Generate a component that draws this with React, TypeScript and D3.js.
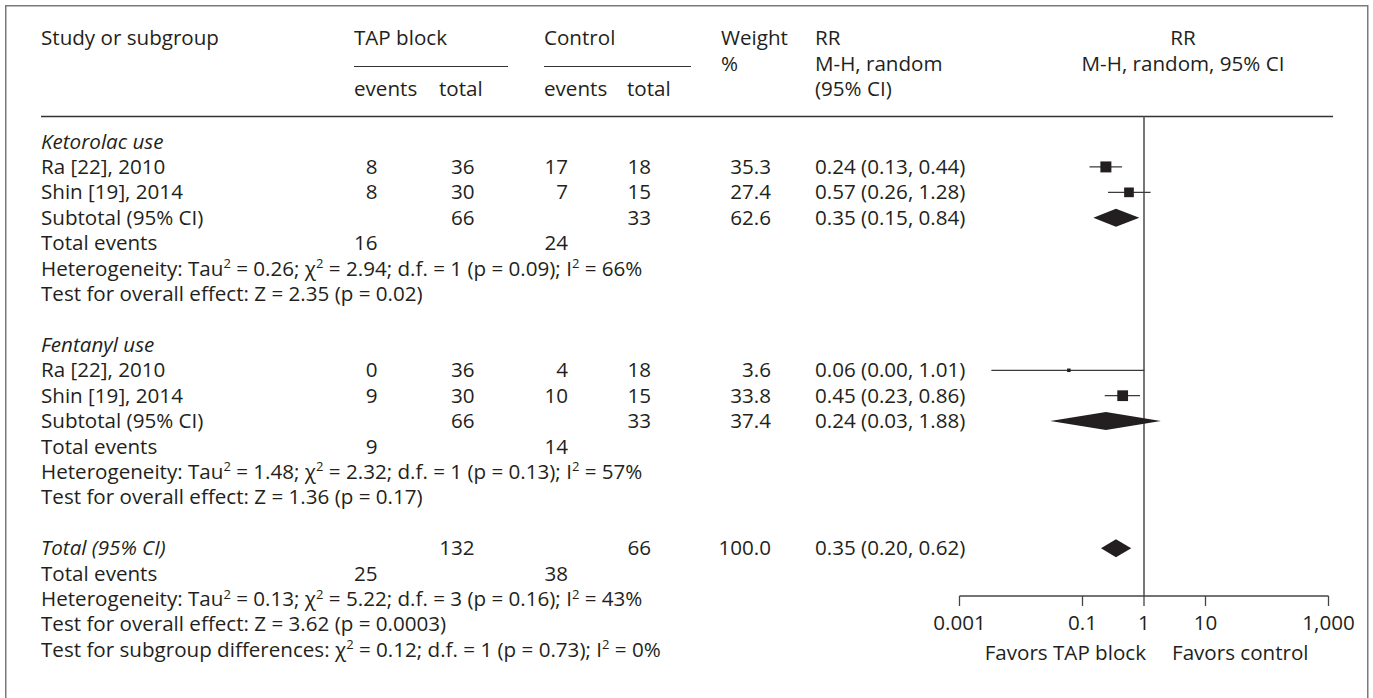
import React from "react";
import * as d3 from "d3";

// ---------- data ----------
const groupNames = ["Ketorolac use", "Fentanyl use"];
const studyNames = [
  ["Ra [22], 2010", "Shin [19], 2014"],
  ["Ra [22], 2010", "Shin [19], 2014"],
];
const tapEvents = [[8, 8], [0, 9]];
const tapTotal = [[36, 30], [36, 30]];
const ctrlEvents = [[17, 7], [4, 10]];
const ctrlTotal = [[18, 15], [18, 15]];
const weights = [[35.3, 27.4], [3.6, 33.8]];
const rr = [[0.24, 0.57], [0.06, 0.45]];
const rrLo = [[0.13, 0.26], [0.0033, 0.23]];
const rrHi = [[0.44, 1.28], [1.01, 0.86]];

const subTapTotal = [66, 66];
const subCtrlTotal = [33, 33];
const subWeight = [62.6, 37.4];
const subRR = [0.35, 0.24];
const subLo = [0.15, 0.03];
const subHi = [0.84, 1.88];
const subTapEvents = [16, 9];
const subCtrlEvents = [24, 14];
const subTau2 = ["0.26", "1.48"];
const subChi2 = ["2.94", "2.32"];
const subDf = [1, 1];
const subP = ["0.09", "0.13"];
const subI2 = [66, 57];
const subZ = ["2.35", "1.36"];
const subPZ = ["0.02", "0.17"];

const totTapTotal = 132;
const totCtrlTotal = 66;
const totWeight = 100.0;
const totRR = 0.35;
const totLo = 0.2;
const totHi = 0.62;
const totTapEvents = 25;
const totCtrlEvents = 38;
const totTau2 = "0.13";
const totChi2 = "5.22";
const totDf = 3;
const totP = "0.16";
const totI2 = 43;
const totZ = "3.62";
const totPZ = "0.0003";
const sgChi2 = "0.12";
const sgDf = 1;
const sgP = "0.73";
const sgI2 = 0;

const tickValues = [0.001, 0.1, 1, 10, 1000];
const tickLabels = ["0.001", "0.1", "1", "10", "1,000"];

// ---------- layout ----------
const W = 1373;
const H = 698;
const FONT = "'Open Sans', 'Noto Sans', sans-serif";
const FS = 20.6;
const TXT = "#231f20";

const x = d3.scaleLog().domain([0.001, 1000]).range([959.5, 1328.5]);
const rowY = (i: number) => 148.5 + i * 25.42;
const MID = 7;

const colStudy = 41;
const colTapEv = 377.5;
const colTapTot = 474.5;
const colCtrlEv = 568;
const colCtrlTot = 651;
const colWeight = 771;
const colRR = 815;

const fmtCI = (m: number, l: number, h: number) =>
  `${m.toFixed(2)} (${l.toFixed(2)}, ${h.toFixed(2)})`;

// segments alternate: normal, superscript, normal, superscript, ...
function SupText({ x: tx, y, parts }: { x: number; y: number; parts: string[] }) {
  const RAISE = 7.5;
  return (
    <text x={tx} y={y}>
      {parts.map((p, i) => {
        const isSup = i % 2 === 1;
        const dy = i === 0 ? 0 : isSup ? -RAISE : RAISE;
        return (
          <tspan key={i} dy={dy} fontSize={isSup ? 13 : undefined}>
            {p}
          </tspan>
        );
      })}
    </text>
  );
}

function Het({ y, tau2, chi2, df, p, i2 }: any) {
  return (
    <SupText
      x={colStudy}
      y={y}
      parts={[
        "Heterogeneity: Tau",
        "2",
        ` = ${tau2}; χ`,
        "2",
        ` = ${chi2}; d.f. = ${df} (p = ${p}); I`,
        "2",
        ` = ${i2}%`,
      ]}
    />
  );
}

function Diamond({ m, l, h, cy }: { m: number; l: number; h: number; cy: number }) {
  const pts = [
    [x(l), cy],
    [x(m), cy - 9],
    [x(h), cy],
    [x(m), cy + 9],
  ];
  return <polygon points={pts.map((p) => p.join(",")).join(" ")} fill={TXT} />;
}

export default function App() {
  const rows: React.ReactNode[] = [];
  const marks: React.ReactNode[] = [];

  groupNames.forEach((g, gi) => {
    const base = gi * 8;
    rows.push(
      <text key={`g${gi}`} x={colStudy} y={rowY(base)} fontStyle="italic">
        {g}
      </text>
    );
    studyNames[gi].forEach((s, si) => {
      const y = rowY(base + 1 + si);
      rows.push(
        <g key={`s${gi}-${si}`}>
          <text x={colStudy} y={y}>{s}</text>
          <text x={colTapEv} y={y} textAnchor="end">{tapEvents[gi][si]}</text>
          <text x={colTapTot} y={y} textAnchor="end">{tapTotal[gi][si]}</text>
          <text x={colCtrlEv} y={y} textAnchor="end">{ctrlEvents[gi][si]}</text>
          <text x={colCtrlTot} y={y} textAnchor="end">{ctrlTotal[gi][si]}</text>
          <text x={colWeight} y={y} textAnchor="end">{weights[gi][si].toFixed(1)}</text>
          <text x={colRR} y={y}>{fmtCI(rr[gi][si], rrLo[gi][si], rrHi[gi][si])}</text>
        </g>
      );
      const cy = y - MID;
      const side = 1.85 * Math.sqrt(weights[gi][si]);
      marks.push(
        <g key={`m${gi}-${si}`}>
          <line x1={x(rrLo[gi][si])} x2={x(rrHi[gi][si])} y1={cy} y2={cy} stroke="#3a3a3a" strokeWidth={1.2} />
          <rect x={x(rr[gi][si]) - side / 2} y={cy - side / 2} width={side} height={side} fill={TXT} />
        </g>
      );
    });
    const ys = rowY(base + 3);
    rows.push(
      <g key={`sub${gi}`}>
        <text x={colStudy} y={ys}>Subtotal (95% CI)</text>
        <text x={colTapTot} y={ys} textAnchor="end">{subTapTotal[gi]}</text>
        <text x={colCtrlTot} y={ys} textAnchor="end">{subCtrlTotal[gi]}</text>
        <text x={colWeight} y={ys} textAnchor="end">{subWeight[gi].toFixed(1)}</text>
        <text x={colRR} y={ys}>{fmtCI(subRR[gi], subLo[gi], subHi[gi])}</text>
        <text x={colStudy} y={rowY(base + 4)}>Total events</text>
        <text x={colTapEv} y={rowY(base + 4)} textAnchor="end">{subTapEvents[gi]}</text>
        <text x={colCtrlEv} y={rowY(base + 4)} textAnchor="end">{subCtrlEvents[gi]}</text>
        <Het y={rowY(base + 5)} tau2={subTau2[gi]} chi2={subChi2[gi]} df={subDf[gi]} p={subP[gi]} i2={subI2[gi]} />
        <text x={colStudy} y={rowY(base + 6)}>
          {`Test for overall effect: Z = ${subZ[gi]} (p = ${subPZ[gi]})`}
        </text>
      </g>
    );
    marks.push(<Diamond key={`d${gi}`} m={subRR[gi]} l={subLo[gi]} h={subHi[gi]} cy={ys - MID} />);
  });

  const yt = rowY(16);
  rows.push(
    <g key="total">
      <text x={colStudy} y={yt} fontStyle="italic">Total (95% CI)</text>
      <text x={colTapTot} y={yt} textAnchor="end">{totTapTotal}</text>
      <text x={colCtrlTot} y={yt} textAnchor="end">{totCtrlTotal}</text>
      <text x={colWeight} y={yt} textAnchor="end">{totWeight.toFixed(1)}</text>
      <text x={colRR} y={yt}>{fmtCI(totRR, totLo, totHi)}</text>
      <text x={colStudy} y={rowY(17)}>Total events</text>
      <text x={colTapEv} y={rowY(17)} textAnchor="end">{totTapEvents}</text>
      <text x={colCtrlEv} y={rowY(17)} textAnchor="end">{totCtrlEvents}</text>
      <Het y={rowY(18)} tau2={totTau2} chi2={totChi2} df={totDf} p={totP} i2={totI2} />
      <text x={colStudy} y={rowY(19)}>
        {`Test for overall effect: Z = ${totZ} (p = ${totPZ})`}
      </text>
      <SupText
        x={colStudy}
        y={rowY(20)}
        parts={[
          "Test for subgroup differences: χ",
          "2",
          ` = ${sgChi2}; d.f. = ${sgDf} (p = ${sgP}); I`,
          "2",
          ` = ${sgI2}%`,
        ]}
      />
    </g>
  );
  marks.push(<Diamond key="dt" m={totRR} l={totLo} h={totHi} cy={yt - MID} />);

  const headerY = 116.5;
  const axisY = 596;
  const h1 = 45;
  const h2 = 70.5;
  const h3 = 96;

  return (
    <svg
      width={W}
      height={H}
      style={{ position: "absolute", left: 0, top: 0, background: "#fff" }}
      fontFamily={FONT}
      fontSize={FS}
      fill={TXT}
    >
      <rect x={5.75} y={5.75} width={1362} height={720} fill="none" stroke="#7a7a7a" strokeWidth={1.5} />

      {/* header */}
      <text x={colStudy} y={h1}>Study or subgroup</text>
      <text x={354} y={h1}>TAP block</text>
      <line x1={354} x2={508} y1={66.5} y2={66.5} stroke="#333" strokeWidth={1.2} />
      <text x={354} y={h3}>events</text>
      <text x={439} y={h3}>total</text>
      <text x={544} y={h1}>Control</text>
      <line x1={544} x2={691} y1={66.5} y2={66.5} stroke="#333" strokeWidth={1.2} />
      <text x={544} y={h3}>events</text>
      <text x={627} y={h3}>total</text>
      <text x={721} y={h1}>Weight</text>
      <text x={721} y={h2}>%</text>
      <text x={colRR} y={h1}>RR</text>
      <text x={colRR} y={h2}>M-H, random</text>
      <text x={colRR} y={h3}>(95% CI)</text>
      <text x={1183} y={h1} textAnchor="middle">RR</text>
      <text x={1183} y={h2} textAnchor="middle">M-H, random, 95% CI</text>
      <line x1={colStudy} x2={1333} y1={headerY} y2={headerY} stroke="#333" strokeWidth={1.5} />

      {rows}

      {/* plot */}
      <line x1={x(1)} x2={x(1)} y1={headerY} y2={axisY} stroke="#555" strokeWidth={1.6} />
      {marks}
      <line x1={x(0.001)} x2={x(1000)} y1={axisY} y2={axisY} stroke="#444" strokeWidth={1.3} />
      {tickValues.map((t, i) => (
        <g key={`t${i}`}>
          <line x1={x(t)} x2={x(t)} y1={axisY} y2={axisY + 10} stroke="#444" strokeWidth={1.3} />
          <text x={x(t)} y={630} textAnchor="middle">{tickLabels[i]}</text>
        </g>
      ))}
      <text x={x(1) + 2} y={660} textAnchor="end">Favors TAP block</text>
      <text x={x(1) + 28} y={660}>Favors control</text>
    </svg>
  );
}
